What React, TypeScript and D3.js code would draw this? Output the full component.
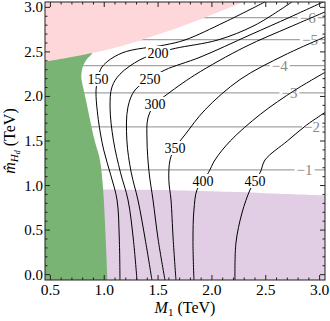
import React from "react";
import * as d3 from "d3";

const W = 330;
const H = 321;

// axis ticks
const xTicks = [0.5, 1.0, 1.5, 2.0, 2.5, 3.0];
const yTicks = [0.0, 0.5, 1.0, 1.5, 2.0, 2.5, 3.0];

// black contours (M1, mHd) in TeV
const contourLevels = [150, 200, 250, 300, 350, 400, 450];
const c150 = [[1.146, -0.06], [1.14, 0.4], [1.119, 0.838], [1.06, 1.12], [0.995, 1.4], [0.945, 1.74], [0.924, 2.07], [0.942, 2.196], [0.979, 2.331], [1.165, 2.488], [1.564, 2.578], [1.75, 2.634], [2.121, 2.836], [2.493, 3.061]];
const c200 = [[1.304, -0.06], [1.27, 0.4], [1.221, 0.838], [1.15, 1.15], [1.085, 1.51], [1.054, 1.88], [1.072, 2.107], [1.146, 2.25], [1.33, 2.41], [1.499, 2.488], [1.66, 2.54], [2.056, 2.634], [2.4, 2.8], [2.743, 3.061]];
const c250 = [[1.443, -0.06], [1.38, 0.4], [1.313, 0.838], [1.25, 1.15], [1.21, 1.51], [1.22, 1.88], [1.286, 2.073], [1.425, 2.196], [1.564, 2.297], [1.889, 2.44], [2.353, 2.69], [2.725, 2.89], [3.05, 3.07]];
const c300 = [[1.564, -0.06], [1.5, 0.4], [1.453, 0.838], [1.416, 1.153], [1.397, 1.512], [1.406, 1.759], [1.471, 1.916], [1.564, 2.006], [1.84, 2.24], [2.307, 2.556], [2.725, 2.78], [3.05, 2.948]];
const c350 = [[1.666, -0.06], [1.64, 0.4], [1.62, 0.838], [1.6, 1.06], [1.611, 1.287], [1.657, 1.422], [1.75, 1.57], [1.936, 1.85], [2.261, 2.19], [2.678, 2.466], [3.05, 2.668]];
const c400 = [[1.833, -0.06], [1.824, 0.389], [1.833, 0.726], [1.861, 0.951], [1.917, 1.052], [1.97, 1.15], [2.028, 1.287], [2.17, 1.5], [2.45, 1.8], [2.77, 2.07], [3.05, 2.27]];
const c450 = [[2.214, -0.06], [2.223, 0.356], [2.279, 0.692], [2.353, 0.95], [2.4, 1.052], [2.45, 1.15], [2.493, 1.287], [2.7, 1.5], [2.88, 1.68], [3.05, 1.82]];
const contourLines = [c150, c200, c250, c300, c350, c400, c450];
const contourLabelAt = [[0.942, 2.196], [1.499, 2.488], [1.425, 2.196], [1.471, 1.916], [1.657, 1.422], [1.917, 1.052], [2.4, 1.052]];

// gray horizontal contours
const grayLevels = [-1, -2, -3, -4, -5, -6];
const grayY = [1.175, 1.658, 2.039, 2.345, 2.637, 2.884];
const grayLabelX = [2.86, 2.93, 2.72, 2.63, 2.91, 2.89];

// shaded regions
const greenEdge = [[1.03, -0.06], [1.01, 0.5], [0.99, 0.95], [0.96, 1.29], [0.91, 1.51], [0.83, 1.96], [0.795, 2.15], [0.787, 2.22], [0.8, 2.33], [0.84, 2.42], [0.88, 2.47], [0.92, 2.55]];
const pinkEdge = [[0.45, 2.39], [0.9, 2.49], [1.2, 2.58], [1.56, 2.72], [1.9, 2.87], [2.29, 3.06]];
const purpleTop = [[0.9, 0.955], [1.5, 0.95], [2.0, 0.935], [2.5, 0.915], [3.05, 0.89]];

const FONT = "'Liberation Serif', 'Times New Roman', serif";

export default function App() {
  const left = 45, right = 325, top = 2, bottom = 280;
  const x = d3.scaleLinear().domain([0.45, 3.05]).range([left, right]);
  const y = d3.scaleLinear().domain([-0.06, 3.06]).range([bottom, top]);

  const curve = d3.line<number[]>().x((d) => x(d[0])).y((d) => y(d[1])).curve(d3.curveCatmullRom.alpha(0.5));

  const greenPath = curve(greenEdge) + `L${x(0.45)},${y(2.6)}L${x(0.45)},${y(-0.06)}Z`;
  const pinkPath = curve(pinkEdge) + `L${x(0.45)},${y(3.06)}Z`;
  const purplePath = curve(purpleTop) + `L${x(3.05)},${y(-0.06)}L${x(0.9)},${y(-0.06)}Z`;

  const minorX = d3.range(0.5, 3.001, 0.1).filter((v) => Math.abs(v * 2 - Math.round(v * 2)) > 1e-6);
  const minorY = d3.range(0.0, 3.001, 0.1).filter((v) => Math.abs(v * 2 - Math.round(v * 2)) > 1e-6);

  return (
    <svg width={W} height={H} style={{ position: "absolute", left: 0, top: 0, background: "#fff" }} fontFamily={FONT}>
      <defs>
        <clipPath id="plot">
          <rect x={left} y={top} width={right - left} height={bottom - top} />
        </clipPath>
      </defs>
      <g clipPath="url(#plot)">
        <path d={purplePath} fill="#e1cde4" />
        {grayY.map((v, i) => (
          <line key={i} x1={left} x2={right} y1={y(v)} y2={y(v)} stroke="#a3a3a3" strokeWidth={1.3} />
        ))}
        {grayY.map((v, i) => (
          <g key={i}>
            <rect x={x(grayLabelX[i]) - 10} y={y(v) - 7} width={20} height={14} fill="#fff" />
            <text x={x(grayLabelX[i])} y={y(v) + 5} textAnchor="middle" fontSize={15} fill="#8a8a8a">
              {"\u2212" + Math.abs(grayLevels[i])}
            </text>
          </g>
        ))}
        {contourLines.map((pts, i) => (
          <path key={i} d={curve(pts) || ""} fill="none" stroke="#000" strokeWidth={1} />
        ))}
        {contourLabelAt.map((p, i) => (
          <g key={i}>
            <rect x={x(p[0]) - 12} y={y(p[1]) - 7} width={24} height={14} fill="#fff" />
            <text x={x(p[0])} y={y(p[1]) + 5} textAnchor="middle" fontSize={14} fill="#000">
              {contourLevels[i]}
            </text>
          </g>
        ))}
        <path d={greenPath} fill="#79b474" />
        <path d={pinkPath} fill="#fdd7da" />
      </g>

      {/* frame and ticks */}
      <rect x={left} y={top} width={right - left} height={bottom - top} fill="none" stroke="#222" strokeWidth={1} />
      {xTicks.map((v) => (
        <g key={v}>
          <line x1={x(v)} x2={x(v)} y1={bottom} y2={bottom - 5} stroke="#222" />
          <line x1={x(v)} x2={x(v)} y1={top} y2={top + 5} stroke="#222" />
          <text x={x(v)} y={295} textAnchor="middle" fontSize={15.5}>{v.toFixed(1)}</text>
        </g>
      ))}
      {minorX.map((v) => (
        <g key={v}>
          <line x1={x(v)} x2={x(v)} y1={bottom} y2={bottom - 2.5} stroke="#222" />
          <line x1={x(v)} x2={x(v)} y1={top} y2={top + 2.5} stroke="#222" />
        </g>
      ))}
      {yTicks.map((v) => (
        <g key={v}>
          <line x1={left} x2={left + 5} y1={y(v)} y2={y(v)} stroke="#222" />
          <line x1={right} x2={right - 5} y1={y(v)} y2={y(v)} stroke="#222" />
          <text x={43} y={y(v) + 5} textAnchor="end" fontSize={15}>{v.toFixed(1)}</text>
        </g>
      ))}
      {minorY.map((v) => (
        <g key={v}>
          <line x1={left} x2={left + 2.5} y1={y(v)} y2={y(v)} stroke="#222" />
          <line x1={right} x2={right - 2.5} y1={y(v)} y2={y(v)} stroke="#222" />
        </g>
      ))}

      <text x={(left + right) / 2} y={313} textAnchor="middle" fontSize={16}>
        <tspan fontStyle="italic">M</tspan>
        <tspan fontSize={11} dy={3}>1</tspan>
        <tspan dy={-3}> (TeV)</tspan>
      </text>
      <text transform={`translate(15,${(top + bottom) / 2}) rotate(-90)`} textAnchor="middle" fontSize={16}>
        <tspan fontStyle="italic">{"m\u0302"}</tspan>
        <tspan fontStyle="italic" fontSize={11} dy={3}>H</tspan>
        <tspan fontStyle="italic" fontSize={8} dy={2}>d</tspan>
        <tspan dy={-5}> (TeV)</tspan>
      </text>
    </svg>
  );
}
